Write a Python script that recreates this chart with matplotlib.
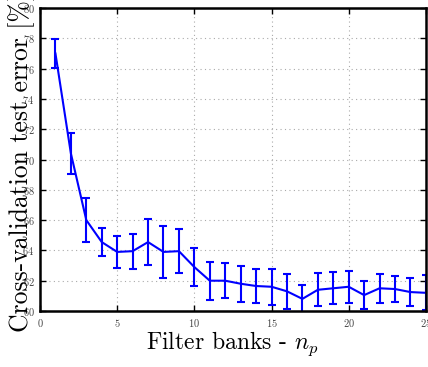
import numpy as np
import matplotlib
matplotlib.use("Agg")
import matplotlib.pyplot as plt

# cross-validation error vs number of filter banks
n_filters = list(range(1, 26))
cv_error = [77.0, 70.4, 66.0, 64.55, 63.9, 63.95, 64.55, 63.9, 63.95, 62.9,
            62.0, 62.0, 61.8, 61.65, 61.6, 61.3, 60.8, 61.4, 61.5, 61.6,
            61.05, 61.5, 61.45, 61.25, 61.2]
cv_std = [0.95, 1.35, 1.45, 0.9, 1.05, 1.15, 1.5, 1.7, 1.45, 1.25,
          1.25, 1.15, 1.2, 1.1, 1.2, 1.15, 0.9, 1.1, 1.05, 1.05,
          0.9, 0.95, 0.85, 0.95, 1.15]

x_ticks = [0, 5, 10, 15, 20, 25]
y_ticks = list(range(60, 81, 2))

plt.rcParams["font.family"] = "cmr10"
plt.rcParams["mathtext.fontset"] = "cm"
plt.rcParams["axes.unicode_minus"] = False
plt.rcParams["axes.formatter.use_mathtext"] = True

fig = plt.figure(figsize=(4.28, 3.67), dpi=100)
ax = fig.add_axes([0.0935, 0.1526, 0.9015, 0.8254])

ax.errorbar(n_filters, cv_error, yerr=cv_std, color="#0000ff", linewidth=1.5,
            elinewidth=1.5, capsize=3, capthick=1.5)

ax.set_xlim(0, 25)
ax.set_ylim(60, 80)
ax.set_xticks(x_ticks)
ax.set_yticks(y_ticks)
ax.tick_params(direction="in", top=True, right=True, labelsize=7.5,
               length=4, width=1.0, pad=4, labelcolor="#444444")

ax.grid(True, color="#aaaaaa", linestyle=(0, (1, 3)), linewidth=0.8)
for s in ax.spines.values():
    s.set_linewidth(1.8)

ax.set_xlabel(r"Filter banks - $n_p$", fontsize=17, labelpad=1)
ax.set_ylabel("Cross-validation test error [%]", fontsize=18.5)
ax.yaxis.set_label_coords(-0.012, 0.49)

fig.savefig("out.png", dpi=100)
